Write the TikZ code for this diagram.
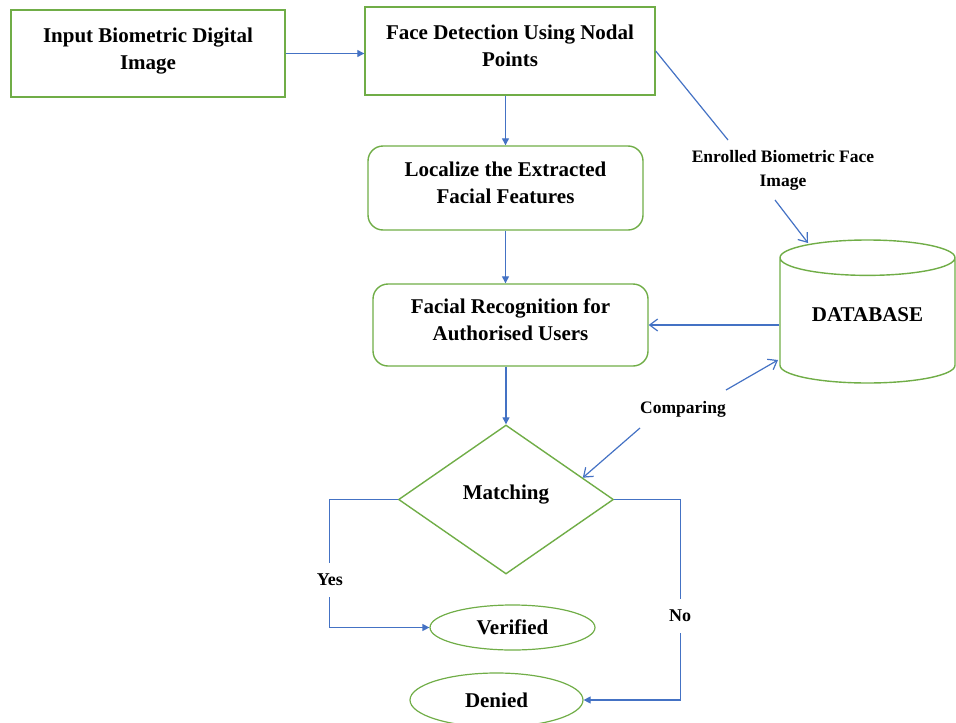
\documentclass[tikz,border=0pt]{standalone}
\usepackage{fontspec}
\setmainfont{Liberation Serif}
\usetikzlibrary{shapes.geometric,arrows.meta,calc}
\definecolor{boxgreen}{HTML}{70AD47}
\definecolor{linkblue}{HTML}{4472C4}
\begin{document}
\begin{tikzpicture}[x=1pt, y=-1pt,
  every node/.style={font=\bfseries\fontsize{21}{27}\selectfont},
  box/.style={draw=boxgreen, line width=1.4pt, rectangle, align=center, text depth=10pt},
  rbox/.style={box, rounded corners=15pt},
  dbase/.style={cylinder, shape border rotate=90, draw=boxgreen, line width=1.4pt, aspect=0.3, minimum width=175pt, minimum height=143pt, text depth=18pt},
  decide/.style={diamond, draw=boxgreen, line width=1.4pt, aspect=1.44, minimum width=215pt, minimum height=149pt, inner sep=0pt, text depth=14pt},
  result/.style={ellipse, draw=boxgreen, line width=1.2pt},
  note/.style={align=center, font=\bfseries\fontsize{17.5}{24}\selectfont},
  tag/.style={fill=white, inner xsep=2pt, inner ysep=11pt, font=\bfseries\fontsize{18}{22}\selectfont},
  line/.style={draw=linkblue, line width=1.2pt},
  link/.style={line, -{Triangle[length=7pt,width=7pt]}},
  open/.style={line, -{Straight Barb[length=8pt,width=12pt]}}
]
\useasboundingbox (0,0) rectangle (956,723);
\node[box, minimum width=274pt, minimum height=87pt] (input) at (148,53.5) {Input Biometric Digital\\Image};
\node[box, minimum width=290pt, minimum height=88pt] (detect) at (510,51) {Face Detection Using Nodal\\Points};
\node[rbox, minimum width=275pt, minimum height=84pt] (local) at (505.5,188) {Localize the Extracted\\Facial Features};
\node[rbox, minimum width=275pt, minimum height=82pt] (recog) at (510.5,325) {Facial Recognition for\\Authorised Users};
\node[dbase, anchor=shape center] (db) at (867.5,311.5) {DATABASE};
\node[decide] (match) at (506,499.5) {Matching};
\node[result, minimum width=165pt, minimum height=45pt] (verif) at (512.5,627.5) {Verified};
\node[result, minimum width=173pt, minimum height=54pt] (denied) at (496.5,700) {Denied};
\node[note] (enrol) at (783,170) {Enrolled Biometric Face\\Image};
\node[note] (cmp) at (683,409) {Comparing};
\coordinate (e1) at (728,140);
\coordinate (e2) at (775,200);
\coordinate (dbtop) at (808,243);
\coordinate (c1) at (640,428);
\coordinate (c2) at (726,390);
\coordinate (dbside) at (778,360);
\coordinate (mside) at ($(match.east)!0.29!(match.north)$);
\draw[link] (input.east) -- (input.east -| detect.west);
\draw[link] (local.north |- detect.south) -- (local.north);
\draw[link] (local.south) -- (local.south |- recog.north);
\draw[link] (match.north |- recog.south) -- (match.north);
\draw[open] (db.west |- recog.east) -- (recog.east);
\draw[line] (detect.east) -- (e1);
\draw[open] (e2) -- (dbtop);
\draw[open] (c2) -- (dbside);
\draw[open] (c1) -- (mside);
\draw[link] (match.west) -- ++(-68,0) |- node[tag, pos=0.315] {Yes} (verif.west);
\draw[link] (match.east) -- ++(66,0) |- node[tag, pos=0.29] {No} (denied.east);
\end{tikzpicture}
\end{document}
